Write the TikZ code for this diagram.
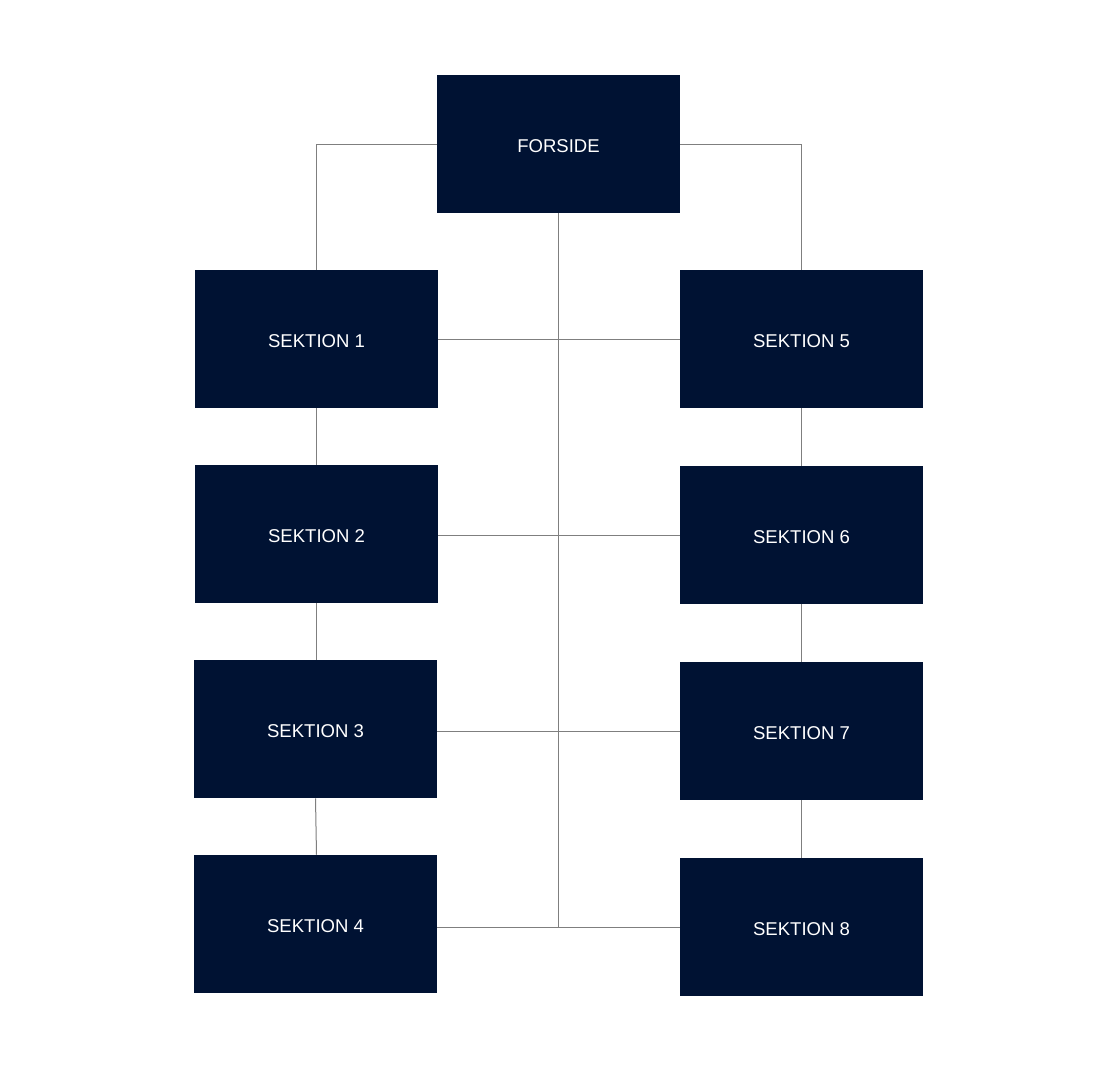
\documentclass[tikz,border=0pt]{standalone}
\usepackage{fontspec}
\setmainfont{Liberation Sans}
\definecolor{navy}{HTML}{001233}
\definecolor{linegray}{HTML}{7F7F7F}
\begin{document}
\begin{tikzpicture}[x=0.75pt,y=-0.75pt,
  box/.style={rectangle, fill=navy, text=white, minimum width=182.25pt, minimum height=103.5pt, inner sep=0pt, text height=13pt, text depth=0pt, font=\fontsize{13.9pt}{16pt}\selectfont},
  link/.style={draw=linegray, line width=0.75pt}]
\useasboundingbox[fill=white] (0,0) rectangle (1117,1072);
\node[box] (F) at (558.5,144) {FORSIDE};
\node[box] (S1) at (316.5,339) {SEKTION 1};
\node[box] (S2) at (316.5,534) {SEKTION 2};
\node[box] (S3) at (315.5,729) {SEKTION 3};
\node[box] (S4) at (315.5,924) {SEKTION 4};
\node[box] (S5) at (801.5,339) {SEKTION 5};
\node[box] (S6) at (801.5,535) {SEKTION 6};
\node[box] (S7) at (801.5,731) {SEKTION 7};
\node[box] (S8) at (801.5,927) {SEKTION 8};
\coordinate (cb) at (558.5,927);
\draw[link] (F.west) -| (S1.north);
\draw[link] (F.east) -| (S5.north);
\draw[link] (F.south) -- (cb);
\draw[link] (S1.east) -- (S5.west);
\draw[link] (S2.east |- S6.west) -- (S6.west);
\draw[link] (S3.east |- S7.west) -- (S7.west);
\draw[link] (S4.east |- cb) -- (S8.west);
\draw[link] (S1.south) -- (S2.north);
\draw[link] (S2.south) -- (S2.south |- S3.north);
\draw[link] (S3.south) -- ([xshift=0.75pt]S4.north);
\draw[link] (S5.south) -- (S6.north);
\draw[link] (S6.south) -- (S7.north);
\draw[link] (S7.south) -- (S8.north);
\end{tikzpicture}
\end{document}
